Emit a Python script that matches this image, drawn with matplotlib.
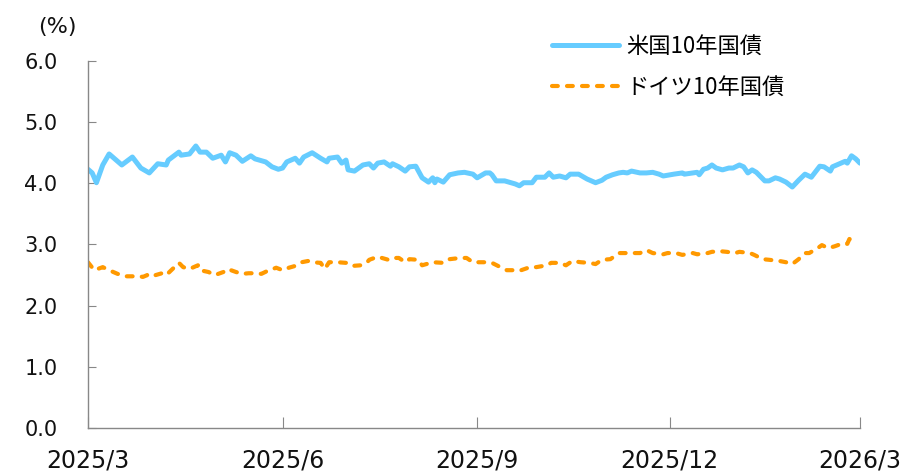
import matplotlib
matplotlib.use("Agg")
import matplotlib.pyplot as plt
import pandas as pd

plt.rcParams['font.family'] = ['DejaVu Sans', 'Noto Sans CJK JP']

# days counted from 2025-03-01, yields in %
start = "2025-03-01"

us_day = [0, 2, 4, 7, 10, 16, 21, 25, 29, 33, 37, 38, 43, 44, 48, 51, 53, 56, 59, 63,
          65, 67, 70, 73, 77, 79, 84, 87, 90, 92, 94, 98, 100, 102, 106, 110, 113, 114, 118, 120,
          122, 123, 126, 130, 133, 135, 137, 140, 143, 144, 147, 150, 152, 155, 158, 161, 163, 164, 165, 168,
          171, 175, 178, 182, 184, 188, 190, 191, 193, 197, 200, 202, 204, 206, 210, 212, 216, 218, 220, 223,
          226, 228, 232, 236, 240, 243, 245, 248, 251, 253, 255, 257, 261, 264, 267, 270, 272, 277, 281, 282,
          288, 289, 291, 293, 295, 297, 300, 303, 305, 308, 310, 312, 314, 316, 320, 322, 325, 327, 330, 333,
          336, 339, 342, 346, 348, 351, 352, 356, 358, 359, 361, 363, 365]
us_yield = [4.23, 4.17, 4.01, 4.30, 4.48, 4.30, 4.43, 4.25, 4.17, 4.32, 4.30, 4.38, 4.51, 4.46, 4.48, 4.61, 4.51, 4.51, 4.41, 4.46,
            4.35, 4.50, 4.46, 4.36, 4.45, 4.40, 4.35, 4.27, 4.23, 4.25, 4.35, 4.41, 4.33, 4.43, 4.50, 4.41, 4.35, 4.41, 4.43, 4.33,
            4.38, 4.22, 4.20, 4.30, 4.32, 4.25, 4.33, 4.35, 4.28, 4.32, 4.27, 4.20, 4.27, 4.28, 4.09, 4.02, 4.09, 4.01, 4.07, 4.02,
            4.14, 4.17, 4.18, 4.15, 4.09, 4.17, 4.17, 4.14, 4.04, 4.04, 4.01, 3.99, 3.96, 4.01, 4.01, 4.10, 4.10, 4.17, 4.10, 4.12,
            4.09, 4.15, 4.15, 4.07, 4.01, 4.05, 4.10, 4.14, 4.17, 4.18, 4.17, 4.20, 4.17, 4.17, 4.18, 4.15, 4.12, 4.15, 4.17, 4.15,
            4.18, 4.14, 4.23, 4.25, 4.30, 4.25, 4.22, 4.25, 4.25, 4.30, 4.27, 4.17, 4.22, 4.18, 4.04, 4.04, 4.09, 4.07, 4.02, 3.94,
            4.05, 4.15, 4.10, 4.28, 4.27, 4.20, 4.27, 4.33, 4.36, 4.33, 4.45, 4.40, 4.33]

de_day = [0, 3, 7, 10, 14, 18, 21, 24, 26, 28, 30, 32, 35, 37, 40, 43, 45, 48, 52, 53,
          57, 60, 64, 66, 70, 73, 76, 79, 82, 85, 89, 92, 95, 98, 101, 104, 106, 110, 112, 114,
          118, 122, 125, 129, 132, 133, 137, 139, 142, 144, 147, 150, 152, 156, 158, 162, 163, 168, 171, 176,
          179, 182, 185, 189, 191, 195, 198, 202, 204, 209, 212, 217, 219, 223, 226, 229, 233, 237, 240, 243,
          247, 251, 253, 258, 261, 264, 267, 272, 274, 278, 281, 286, 288, 293, 295, 299, 302, 306, 308, 313,
          315, 319, 322, 327, 330, 333, 336, 339, 341, 345, 347, 350, 353, 357, 359, 360, 364]
de_yield = [2.71, 2.58, 2.63, 2.58, 2.52, 2.48, 2.48, 2.48, 2.47, 2.50, 2.47, 2.50, 2.53, 2.50, 2.60, 2.70, 2.63, 2.60, 2.66, 2.58,
            2.55, 2.50, 2.55, 2.60, 2.55, 2.52, 2.53, 2.53, 2.52, 2.57, 2.62, 2.58, 2.62, 2.65, 2.71, 2.73, 2.71, 2.70, 2.60, 2.71,
            2.71, 2.70, 2.65, 2.66, 2.71, 2.75, 2.80, 2.78, 2.75, 2.78, 2.78, 2.71, 2.76, 2.75, 2.66, 2.70, 2.71, 2.70, 2.76, 2.78,
            2.78, 2.71, 2.71, 2.71, 2.70, 2.63, 2.58, 2.58, 2.57, 2.63, 2.63, 2.66, 2.70, 2.70, 2.66, 2.73, 2.71, 2.70, 2.68, 2.75,
            2.76, 2.86, 2.86, 2.86, 2.86, 2.91, 2.86, 2.84, 2.86, 2.86, 2.83, 2.86, 2.84, 2.86, 2.88, 2.89, 2.88, 2.86, 2.88, 2.86,
            2.83, 2.76, 2.75, 2.73, 2.71, 2.68, 2.76, 2.86, 2.86, 2.94, 2.99, 2.94, 2.97, 3.02, 3.01, 3.09, 3.04]

series_names = ["米国10年国債", "ドイツ10年国債"]
tick_dates = ["2025-03-01", "2025-06-01", "2025-09-01", "2025-12-01", "2026-03-01"]
tick_labels = ["2025/3", "2025/6", "2025/9", "2025/12", "2026/3"]

us_x = pd.Timestamp(start) + pd.to_timedelta(us_day, unit="D")
de_x = pd.Timestamp(start) + pd.to_timedelta(de_day, unit="D")

fig = plt.figure(figsize=(9.04, 4.71), dpi=100)
ax = fig.add_axes([0.0973, 0.0913, 0.854, 0.7792])

ax.plot(us_x, us_yield, color="#66CCFF", lw=3.6, label=series_names[0],
        solid_joinstyle="round", solid_capstyle="round")
ax.plot(de_x, de_yield, color="#FF9900", lw=3.0, ls=(0, (1.4, 2.2)), label=series_names[1],
        dash_capstyle="round", dash_joinstyle="round")

ax.set_ylim(0, 6)
ax.set_yticks([0, 1, 2, 3, 4, 5, 6])
ax.set_yticklabels(["%.1f" % v for v in range(7)])
ax.set_xlim(pd.Timestamp(tick_dates[0]), pd.Timestamp(tick_dates[-1]))
ax.set_xticks(pd.to_datetime(tick_dates))
ax.set_xticklabels(tick_labels)

for s in ["top", "right"]:
    ax.spines[s].set_visible(False)
for s in ["left", "bottom"]:
    ax.spines[s].set_color("#888888")
    ax.spines[s].set_linewidth(1.0)

ax.tick_params(axis="y", direction="in", length=6, color="#888888", labelsize=15, pad=22, labelcolor="#111111")
ax.tick_params(axis="x", direction="in", length=8, color="#888888", labelsize=17, pad=15, labelcolor="#111111")

fig.text(0.063, 0.942, "(%)", fontsize=16, ha="center", va="center", color="#111111")

leg = ax.legend(loc="upper left", bbox_to_anchor=(0.575, 1.125), frameon=False, handlelength=3.0,
                labelspacing=0.78, handletextpad=0.35,
                prop={"family": ["Noto Sans CJK JP"], "size": 16})

fig.savefig("out.png", dpi=100)
